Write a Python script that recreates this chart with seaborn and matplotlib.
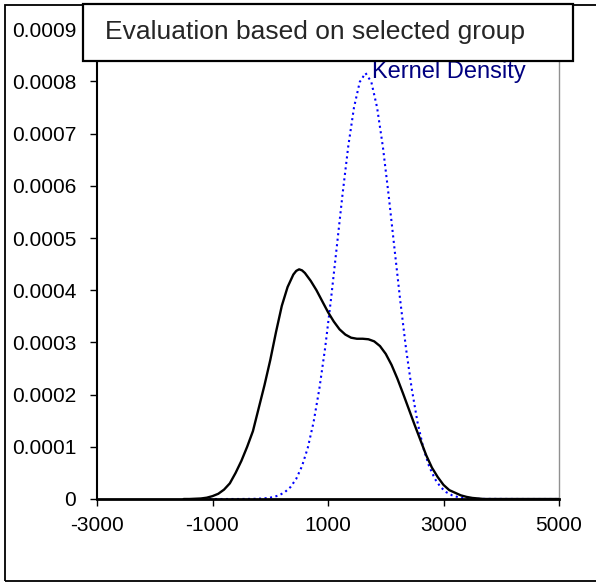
import matplotlib
matplotlib.use('Agg')
import matplotlib.pyplot as plt
from matplotlib.patches import Rectangle
import seaborn as sns
import pandas as pd

# black curve: selected group density
group_x = [-1500, -1400, -1300, -1200, -1100, -1000, -900, -800, -700, -600,
           -500, -400, -300, -200, -100, 0, 100, 200, 300, 400,
           450, 500, 550, 600, 700, 800, 900, 1000, 1100, 1200, 1300, 1400,
           1500, 1600, 1700, 1800, 1900, 2000, 2100, 2200, 2300, 2400,
           2500, 2600, 2700, 2800, 2900, 3000, 3100, 3200, 3300, 3400,
           3500, 3600, 3700, 3900, 4500, 5000]
group_d = [0.0, 0.0, 0.005, 0.010, 0.025, 0.055, 0.10, 0.18, 0.30, 0.50,
           0.73, 1.00, 1.30, 1.74, 2.18, 2.66, 3.20, 3.70, 4.06, 4.30,
           4.37, 4.40, 4.38, 4.33, 4.18, 4.00, 3.79, 3.58, 3.40, 3.25, 3.15, 3.09,
           3.07, 3.07, 3.06, 3.02, 2.93, 2.78, 2.57, 2.31, 2.02, 1.72,
           1.42, 1.13, 0.84, 0.60, 0.42, 0.27, 0.17, 0.12, 0.07, 0.04,
           0.02, 0.01, 0.0, 0.0, 0.0, 0.0]

# blue dotted curve: kernel density
kernel_x = [-1150, -1050, -950, -850, -750, -650, -550, -450, -350, -250,
            -150, -50, 50, 150, 250, 350, 450, 550, 650, 750,
            850, 950, 1050, 1150, 1250, 1350, 1450, 1550, 1650, 1750,
            1850, 1950, 2050, 2150, 2250, 2350, 2450, 2550, 2650, 2750,
            2850, 2950, 3050, 3150, 3250, 3350, 3450, 3550, 3650, 4500, 5000]
kernel_d = [0.0, 0.0, 0.0, 0.0, 0.0, 0.0, 0.0, 0.001, 0.002, 0.004,
            0.009, 0.018, 0.036, 0.070, 0.129, 0.228, 0.387, 0.630, 0.981, 1.47,
            2.11, 2.89, 3.81, 4.81, 5.82, 6.75, 7.50, 7.99, 8.16, 7.99,
            7.50, 6.75, 5.82, 4.81, 3.81, 2.89, 2.11, 1.47, 0.981, 0.630,
            0.387, 0.228, 0.129, 0.070, 0.036, 0.018, 0.009, 0.004, 0.002, 0.0, 0.0]

x_ticks = [-3000, -1000, 1000, 3000, 5000]
y_ticks = [0, 0.0001, 0.0002, 0.0003, 0.0004, 0.0005, 0.0006, 0.0007, 0.0008, 0.0009]
y_labels = ['0', '0.0001', '0.0002', '0.0003', '0.0004', '0.0005',
            '0.0006', '0.0007', '0.0008', '0.0009']

title = 'Evaluation based on selected group'
kernel_label = 'Kernel Density'

sns.set_style('white')
plt.rcParams['font.family'] = ['Liberation Sans', 'DejaVu Sans']

W, H = 596, 583
fig = plt.figure(figsize=(W / 100, H / 100), dpi=100)
ax = fig.add_axes([97 / W, 1 - 499 / H, (559 - 97) / W, (499 - 5) / H])

df_group = pd.DataFrame({'x': group_x, 'd': [v * 1e-4 for v in group_d]})
df_kernel = pd.DataFrame({'x': kernel_x, 'd': [v * 1e-4 for v in kernel_d]})

sns.lineplot(data=df_group, x='x', y='d', ax=ax, color='black', linewidth=1.7,
             sort=False, zorder=3)
sns.lineplot(data=df_kernel, x='x', y='d', ax=ax, color='#0000ff', linewidth=1.5,
             linestyle=':', sort=False, zorder=2)

ax.set_xlim(-3000, 5000)
ax.set_ylim(0, (499 - 5) / 522000)
ax.set_xticks(x_ticks)
ax.set_xticklabels([str(t) for t in x_ticks])
ax.set_yticks(y_ticks)
ax.set_yticklabels(y_labels)
ax.set_xlabel('')
ax.set_ylabel('')
ax.tick_params(axis='both', direction='out', length=5, width=1, colors='black',
               labelsize=15, left=True, bottom=True)
ax.tick_params(axis='y', pad=10)
ax.tick_params(axis='x', pad=7)

for side in ['left', 'bottom']:
    ax.spines[side].set_color('black')
ax.spines['left'].set_linewidth(1.5)
ax.spines['bottom'].set_linewidth(2)
ax.spines['right'].set_color('#909090')
ax.spines['right'].set_linewidth(1)
ax.spines['top'].set_visible(False)

ax.text(1762, 0.000818, kernel_label, color='#000080', fontsize=17,
        ha='left', va='center', zorder=5)

# outer chart frame
fig.add_artist(Rectangle((5 / W, 2 / H), 1.1, 1 - 7 / H, transform=fig.transFigure,
                         fill=False, edgecolor='black', linewidth=1.3))
# title box
fig.add_artist(Rectangle((83 / W, 1 - 61 / H), (573 - 83) / W, (61 - 3.5) / H,
                         transform=fig.transFigure, facecolor='white',
                         edgecolor='black', linewidth=1.6))
fig.text(105 / W, 1 - 32 / H, title, fontsize=19, ha='left', va='center')

fig.savefig('out.png', dpi=100)
